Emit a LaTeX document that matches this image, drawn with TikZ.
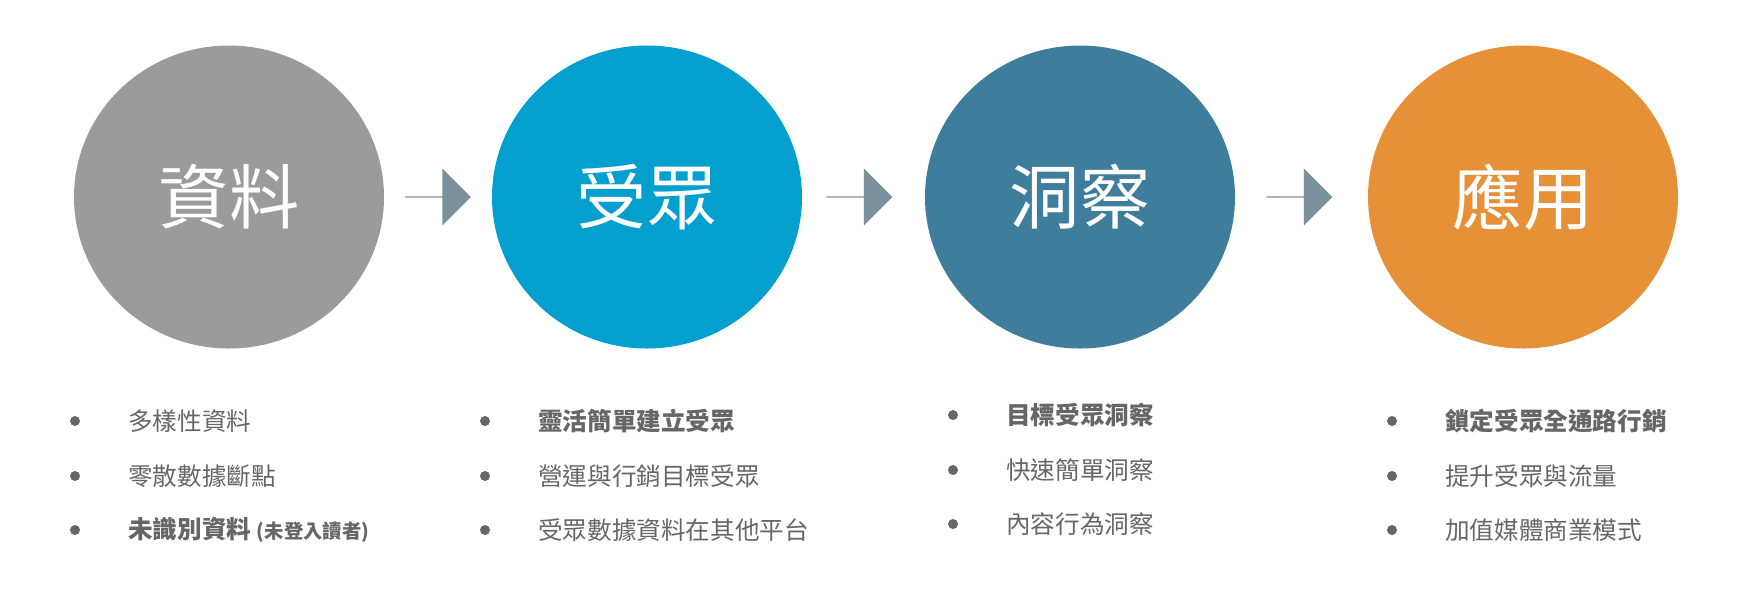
\documentclass[tikz,border=0pt]{standalone}
\usepackage{fontspec}
\setmainfont{Noto Sans CJK TC}
\usetikzlibrary{shapes.arrows}
\definecolor{cgray}{HTML}{9B9B9B}
\definecolor{cblue}{HTML}{039FCF}
\definecolor{cteal}{HTML}{3E7E9C}
\definecolor{corange}{HTML}{E69138}
\definecolor{carrow}{HTML}{7B929E}
\definecolor{ctext}{HTML}{666666}
\tikzset{
  stage/.style={ellipse,fill=#1,draw=none,minimum width=6.2cm,minimum height=6.06cm,
    text=white,font=\fontsize{40}{44}\selectfont},
  flow/.style={single arrow,fill=carrow,draw=none,minimum height=1.32cm,minimum width=1.14cm,
    single arrow head extend=0.3cm,inner sep=0pt},
  dot/.style={circle,fill=ctext,inner sep=0pt,minimum size=0.2cm},
  item/.style={anchor=west,text=ctext,font=\fontsize{14}{16}\selectfont,inner sep=0pt},
}
\usetikzlibrary{shapes.geometric}
\begin{document}
\begin{tikzpicture}
\useasboundingbox (0,0) rectangle (34.76,-12.08);
% stages
\node[stage=cgray](s1) at (4.58,-3.94) {資料};
\node[stage=cblue](s2) at (12.94,-3.94) {受眾};
\node[stage=cteal](s3) at (21.60,-3.94) {洞察};
\node[stage=corange](s4) at (30.46,-3.94) {應用};
\node[flow](a1) at (8.75,-3.94) {};
\node[flow](a2) at (17.18,-3.94) {};
\node[flow](a3) at (25.98,-3.94) {};
% lists
\foreach \x/\t/\y/\name/\txt in {
  1.5/2.56/8.42/p11/多樣性資料, 1.5/2.56/9.52/p12/零散數據斷點,
  9.7/10.76/9.52/p22/營運與行銷目標受眾, 9.7/10.76/10.6/p23/受眾數據資料在其他平台,
  19.06/20.12/9.4/p32/快速簡單洞察, 19.06/20.12/10.48/p33/內容行為洞察,
  27.84/28.9/9.52/p42/提升受眾與流量, 27.84/28.9/10.6/p43/加值媒體商業模式}{
  \node[dot](d\name) at (\x,-\y) {};
  \node[item](\name) at (\t,-\y) {\txt};
}
\foreach \x/\t/\y/\name/\txt in {
  9.7/10.76/8.42/p21/靈活簡單建立受眾, 19.06/20.12/8.3/p31/目標受眾洞察,
  27.84/28.9/8.42/p41/鎖定受眾全通路行銷}{
  \node[dot](d\name) at (\x,-\y) {};
  \node[item,font=\fontsize{14}{16}\selectfont\bfseries](\name) at (\t,-\y) {\txt};
}
\node[dot](dp13) at (1.5,-10.6) {};
\node[item,font=\fontsize{14}{16}\selectfont\bfseries](p13) at (2.56,-10.6)
  {未識別資料 {\fontsize{11}{13}\selectfont(未登入讀者)}};
\end{tikzpicture}
\end{document}
